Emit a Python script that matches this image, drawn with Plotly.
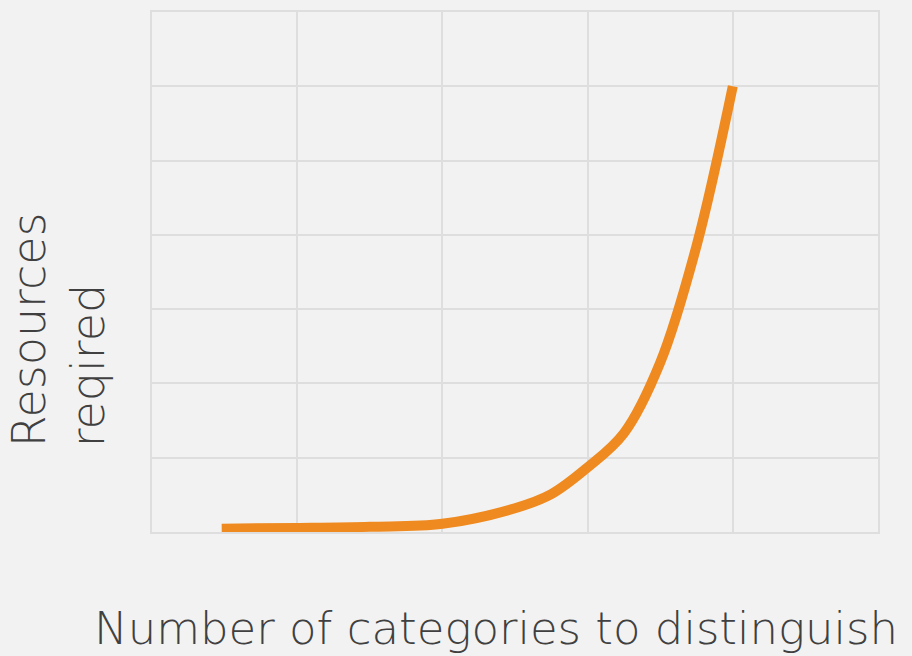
import plotly.graph_objects as go

x_vals = [0.48, 1.0, 1.5, 2.0, 2.5, 2.75, 3.0, 3.25, 3.5, 3.75, 4.0]
y_vals = [0.045, 0.054, 0.07, 0.11, 0.32, 0.51, 0.87, 1.33, 2.28, 3.85, 6.0]

x_title = "Number of categories to distinguish"
y_title = "Resources<br>reqired"

fig = go.Figure()
fig.add_trace(go.Scatter(
    x=x_vals, y=y_vals, mode="lines",
    line=dict(color="#ef8a20", width=10, shape="spline", smoothing=1.0),
    hoverinfo="skip", showlegend=False,
))

grid = "#dedede"
fnt = "DejaVu Sans ExtraLight, DejaVu Sans Light, Lato Light, DejaVu Sans, sans-serif"
fig.update_layout(
    width=912, height=656,
    paper_bgcolor="#f2f2f2", plot_bgcolor="#f2f2f2",
    margin=dict(l=152, r=34, t=10, b=124),
    font=dict(family=fnt, color="#404040"),
    xaxis=dict(range=[0, 5], dtick=1, showticklabels=False, showgrid=True,
               gridcolor=grid, gridwidth=2, zeroline=False,
               showline=True, linecolor=grid, linewidth=2, mirror=True, ticks=""),
    yaxis=dict(range=[0, 7], dtick=1, showticklabels=False, showgrid=True,
               gridcolor=grid, gridwidth=2, zeroline=False,
               showline=True, linecolor=grid, linewidth=2, mirror=True, ticks=""),
    annotations=[
        dict(text=x_title, xref="paper", yref="paper", x=0.474, y=-0.185,
             xanchor="center", yanchor="middle", showarrow=False,
             font=dict(size=45, color="#404040", family=fnt, weight=200)),
        dict(text=y_title, xref="paper", yref="paper", x=0, y=0.158,
             xanchor="right", yanchor="bottom", xshift=-34, showarrow=False,
             textangle=-90, align="left",
             font=dict(size=46, color="#404040", family=fnt, weight=200)),
    ],
)

fig.write_html("out.html", config={"displayModeBar": False},
               post_script="document.body.style.margin='0';document.body.style.background='#f2f2f2';")
